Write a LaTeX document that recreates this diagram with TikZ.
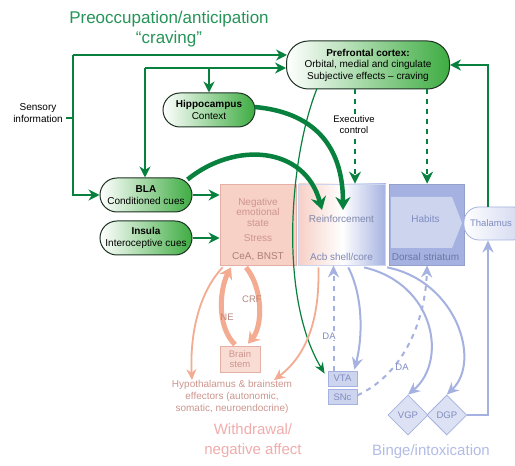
\documentclass[tikz,border=0pt]{standalone}
\usepackage{fontspec}
\setmainfont{Liberation Sans}
\usetikzlibrary{shapes.geometric, arrows.meta, positioning, calc}
\definecolor{CravGreen}{RGB}{8,128,62}
\definecolor{CravTitle}{RGB}{38,148,88}
\definecolor{PillGreen}{RGB}{62,172,66}
\definecolor{PillBorder}{RGB}{30,50,35}
\definecolor{WdSalmon}{RGB}{243,172,145}
\definecolor{WdPink}{RGB}{247,208,198}
\definecolor{WdBorder}{RGB}{228,175,165}
\definecolor{WdText}{RGB}{205,150,142}
\definecolor{WdTitle}{RGB}{242,172,172}
\definecolor{BgBlue}{RGB}{165,178,225}
\definecolor{BgLight}{RGB}{205,212,238}
\definecolor{BgText}{RGB}{128,140,192}
\definecolor{BgTitle}{RGB}{178,188,230}

\begin{document}
\begin{tikzpicture}[
    x=1pt, y=1pt,
    font=\fontsize{10}{12}\selectfont,
    node distance=2pt and 2pt,
    % Styles
    pill/.style={rectangle, rounded corners=17pt, draw=PillBorder, line width=1pt, left color=white, right color=PillGreen, minimum width=92pt, minimum height=34pt, inner sep=1pt, align=center, text=black, font=\fontsize{10}{11.5}\selectfont},
    region/.style={rectangle, minimum height=81pt, inner sep=0pt, line width=0.8pt},
    boxtext/.style={align=center, font=\fontsize{10}{10.5}\selectfont},
    smallbox/.style={rectangle, line width=0.8pt, inner sep=0pt, align=center, font=\fontsize{9.5}{10.5}\selectfont},
    gate/.style={diamond, aspect=1, minimum width=40pt, minimum height=40pt, inner sep=0pt, line width=0.8pt, draw=BgBlue, fill=BgLight!70, text=BgText, font=\fontsize{9.5}{10}\selectfont},
    stext/.style={text=WdText, font=\fontsize{9.5}{11}\selectfont},
    btext/.style={text=BgText, font=\fontsize{9.5}{11}\selectfont},
    garrow/.style={line width=2pt, ->, >={Stealth[length=11pt, width=11pt]}, color=CravGreen},
    gline/.style={line width=2pt, -, color=CravGreen},
    gthick/.style={line width=4.5pt, ->, >={Stealth[length=13pt, width=15pt]}, color=CravGreen},
    gthin/.style={line width=1.2pt, ->, >={Stealth[length=11pt, width=9pt]}, color=CravGreen},
    gdashed/.style={line width=2.4pt, dash pattern=on 5pt off 5pt, ->, >={Stealth[length=12pt, width=12pt]}, color=CravGreen},
    sarrow/.style={line width=1.8pt, ->, >={Stealth[length=11pt, width=10pt]}, color=WdSalmon},
    sthick/.style={line width=5pt, ->, >={Stealth[length=11pt, width=14pt]}, color=WdSalmon},
    barrow/.style={line width=2pt, ->, >={Stealth[length=12pt, width=11pt]}, color=BgBlue},
    bdashed/.style={barrow, dash pattern=on 5pt off 5pt}
]
\useasboundingbox (0,0) rectangle (515,466);
\clip (0,0) rectangle (515,466);
\fill[white] (0,0) rectangle (515,466);

% ==========================================================================================
% PREOCCUPATION / ANTICIPATION (Top)
% ==========================================================================================

% Title
\node[font=\fontsize{17}{19.5}\selectfont, text=CravTitle, align=center] (pre_title) at (169,437) {Preoccupation/anticipation\\“craving”};

% Prefrontal cortex
\node[pill, rounded corners=22pt, minimum width=163pt, minimum height=48pt] (pfc) at (368,401) {\textbf{Prefrontal cortex:}\\Orbital, medial and cingulate\\Subjective effects -- craving};

% Hippocampus, BLA, Insula
\node[pill] (hippo) at (209,356) {\textbf{Hippocampus}\\Context};
\node[pill] (bla) at (146,271) {\textbf{BLA}\\Conditioned cues};
\node[pill, below=8pt of bla] (insula) {\textbf{Insula}\\Interoceptive cues};

% Sensory input
\node[align=center] (sensory) at (38,353) {Sensory\\information};

% ==========================================================================================
% STRIATAL / EXTENDED AMYGDALA BOXES (Middle)
% ==========================================================================================

\node[region, fill=WdPink, draw=WdBorder, minimum width=76pt] (neg) at (258,241.5) {};
\node[region, right=2pt of neg, minimum width=87pt, left color=WdPink, right color=BgBlue, middle color=white, draw=BgLight] (reinf) {};
\node[region, right=3pt of reinf, minimum width=75pt, fill=BgBlue, draw=BgBlue!90!black] (habits) {};
\fill[BgLight] (391,269) -- (452,269) -- (462,243) -- (452,218) -- (391,218) -- cycle;

% Box texts
\node[boxtext, text=WdText] at (258,254) {Negative\\emotional\\state};
\node[boxtext, text=WdText] at (258,228) {Stress};
\node[boxtext, text=WdText!85!black] at (258,209) {CeA, BNST};
\node[boxtext, text=BgText!70!gray] at (341.5,247) {Reinforcement};
\node[boxtext, text=BgText!80!gray] at (341.5,209) {Acb shell/core};
\node[boxtext, text=BgText] at (425.5,247) {Habits};
\node[boxtext, text=BgText!85!black] at (425.5,209) {Dorsal striatum};

% Thalamus
\node[rectangle, rounded corners=15pt, draw=BgBlue, line width=0.8pt, left color=white, right color=BgLight, minimum width=64pt, minimum height=33pt] (thal) at (496,242.5) {};
\node[text=BgText, font=\fontsize{9.5}{11}\selectfont, inner sep=0pt] (thal_text) at (491,242.5) {Thalamus};

% ==========================================================================================
% WITHDRAWAL / NEGATIVE AFFECT (Bottom Left)
% ==========================================================================================

\node[smallbox, fill=WdPink!75, draw=WdBorder, text=WdText, minimum width=40pt, minimum height=26pt] (stem) at (240,107) {Brain\\stem};
\node[stext, align=center, inner sep=0pt, font=\fontsize{10}{12}\selectfont] (hypo) at (232,69) {Hypothalamus \& brainstem\\effectors (autonomic,\\somatic, neuroendocrine)};
\node[text=WdTitle, font=\fontsize{15}{20}\selectfont, align=center] (wd_title) at (253,25) {Withdrawal/\\negative affect};

% ==========================================================================================
% BINGE / INTOXICATION (Bottom Right)
% ==========================================================================================

\node[smallbox, fill=BgLight, draw=BgBlue, text=BgText, minimum width=29pt, minimum height=15pt] (vta) at (342.5,87.5) {VTA};
\node[smallbox, fill=BgLight, draw=BgBlue, text=BgText, minimum width=29pt, minimum height=15pt, below=3pt of vta] (snc) {SNc};
\node[gate] (vgp) at (408,51) {VGP};
\node[gate, right=-2pt of vgp] (dgp) {DGP};
\node[text=BgTitle, font=\fontsize{15}{19}\selectfont] (bi_title) at (431,14) {Binge/intoxication};

% ==========================================================================================
% CONNECTORS
% ==========================================================================================

% Green buses to PFC
\coordinate (sens_bus) at (73,411);
\coordinate (ctx_bus) at (145,398);
\draw[gline] ([yshift=-5pt]sensory.east) -- ([yshift=-5pt]sensory.east -| sens_bus);
\draw[garrow] (sens_bus) -- ([xshift=1pt]sens_bus -| pfc.west);
\draw[garrow] (sens_bus) |- (bla.west);
\draw[garrow] (ctx_bus) -- (ctx_bus -| pfc.west);
\draw[garrow] (ctx_bus) -- (ctx_bus |- bla.north);
\draw[garrow] (ctx_bus -| hippo.north) -- (hippo.north);
\draw[garrow] ([xshift=-8pt]thal.north) |- (pfc.east);

% Cues into the boxes
\draw[garrow] (bla.east) -- (bla.east -| neg.west);
\draw[garrow] (insula.east) -- (insula.east -| neg.west);

% Thick arcs into reinforcement
\draw[gthick] ($(bla.north east)+(-5,-2)$) .. controls (235,325) and (305,320) .. (322,256);
\draw[gthick] ($(hippo.east)+(-1,3)$) .. controls (312,354) and (343,322) .. (343,256);

% PFC outputs
\draw[gthin] ($(pfc.south)+(-51,1)$) .. controls (290,310) and (278,170) .. ($(vta.north west)+(-3,-3)$);
\draw[gdashed] ([xshift=-13pt]pfc.south) -- ([xshift=-13pt]pfc.south |- reinf.north);
\draw[gdashed] (pfc.south -| habits.north) -- (habits.north);
\node[fill=white, inner sep=1pt, align=center, font=\fontsize{9.5}{11}\selectfont] (exec) at (354,341) {Executive\\control};

% Withdrawal arrows
\draw[sthick] ($(stem.north)+(-5,1)$) .. controls (216,140) and (220,178) .. ($(neg.south)+(-27,-2)$);
\draw[sthick] ($(neg.south)+(-12,-2)$) .. controls (263,178) and (263,140) .. ($(stem.north)+(8,2)$);
\node[stext, text=WdText!90!black] at (252,167) {CRF};
\node[stext, text=WdText!90!black] at (227,149) {NE};
\draw[sarrow] ($(neg.south west)+(3,-2)$) .. controls (196,170) and (190,125) .. ([xshift=-40pt]hypo.north);
\draw[sarrow] ($(reinf.south west)+(20,-2)$) .. controls (320,140) and (303,108) .. ([xshift=42pt]hypo.north);

% Binge arrows
\draw[bdashed] ([xshift=-9pt]vta.north) -- ([xshift=-9pt]vta.north |- reinf.south);
\node[btext, fill=white, inner sep=0.5pt] at (329,130) {DA};
\draw[barrow] ($(reinf.south)+(6,-2)$) .. controls (363,170) and (363,130) .. ($(vta.north east)+(-3,1)$);
\draw[barrow] ($(reinf.south east)+(-22,-2)$) .. controls (435,182) and (448,105) .. (vgp.north);
\draw[barrow] ($(habits.south west)+(-2,-2)$) .. controls (456,185) and (482,105) .. (dgp.north);
\draw[bdashed] ($(snc.east)+(0,2)$) .. controls (400,90) and (425,140) .. (habits.south);
\node[btext] at (402,99) {DA};
\draw[barrow] (dgp.east) -| ([xshift=-8pt]thal.south);

\end{tikzpicture}
\end{document}
